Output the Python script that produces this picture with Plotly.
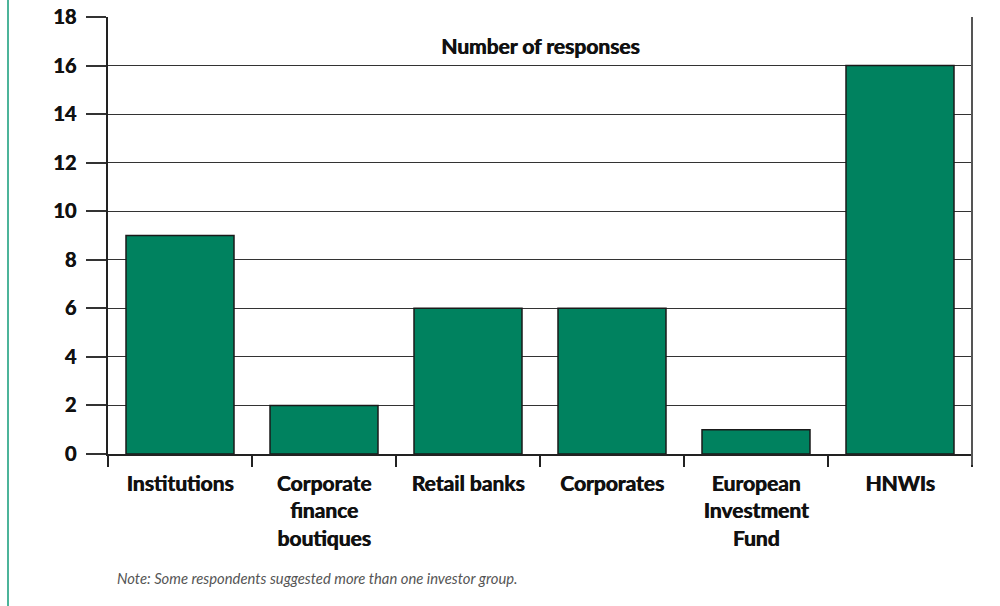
import plotly.graph_objects as go

categories = ["Institutions", "Corporate<br>finance<br>boutiques", "Retail banks",
              "Corporates", "European<br>Investment<br>Fund", "HNWIs"]
responses = [9, 2, 6, 6, 1, 16]
y_ticks = [0, 2, 4, 6, 8, 10, 12, 14, 16, 18]

FONT = "Lato"
W = "bold"
SH = "0.7px 0px 0px #111111"

fig = go.Figure()
fig.add_trace(go.Bar(
    x=categories, y=responses,
    marker=dict(color="#00825f", line=dict(color="#1a1a1a", width=1.5)),
    width=0.75,
))

fig.update_layout(
    width=1000, height=606,
    margin=dict(l=108, r=28, t=17, b=152),
    paper_bgcolor="white", plot_bgcolor="white",
    showlegend=False,
    font=dict(family=FONT, color="#111111"),
    xaxis=dict(
        type="category", automargin=False,
        showline=True, linecolor="#222222", linewidth=1.5,
        ticks="outside", tickson="boundaries", ticklen=11, tickcolor="#222222", tickwidth=1.5,
        tickfont=dict(family=FONT, size=21, color="#111111", weight=W, shadow=SH),
        ticklabelstandoff=10,
        showgrid=False,
    ),
    yaxis=dict(
        range=[0, 18], tickvals=y_ticks, ticktext=[str(v) for v in y_ticks],
        automargin=False,
        showline=True, linecolor="#222222", linewidth=1.5,
        ticks="outside", ticklen=20, tickcolor="#333333", tickwidth=1.5,
        showgrid=True, gridcolor="#333333", gridwidth=1.3,
        tickfont=dict(family=FONT, size=20, color="#111111", weight=W, shadow=SH),
        zeroline=False,
        ticklabelstandoff=6,
    ),
    annotations=[
        dict(text="Number of responses", xref="paper", yref="paper",
             x=0.5, y=(454 - 45) / 437, xanchor="center", yanchor="middle",
             showarrow=False,
             font=dict(family=FONT, size=21, color="#111111", weight=W, shadow=SH)),
        dict(text="<i>Note: Some respondents suggested more than one investor group.</i>",
             xref="paper", yref="paper", x=(115 - 108) / 864, y=(454 - 578) / 437,
             xanchor="left", yanchor="middle", showarrow=False,
             font=dict(family=FONT, size=14.8, color="#555555")),
    ],
    shapes=[
        dict(type="line", xref="paper", yref="paper", x0=1, x1=1,
             y0=(454 - 465) / 437, y1=1, line=dict(color="#555555", width=2)),
        dict(type="line", xref="paper", yref="paper", x0=(8 - 108) / 864, x1=(8 - 108) / 864,
             y0=(454 - 606) / 437, y1=454 / 437, line=dict(color="#4cb49a", width=2)),
    ],
)

fig.write_html("out.html")
